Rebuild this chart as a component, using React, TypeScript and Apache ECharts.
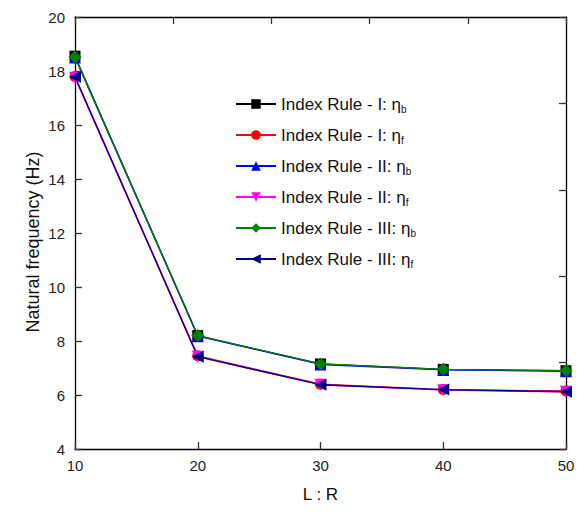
import React, { useEffect, useRef } from "react";
import * as echarts from "echarts";

const ratios = [10, 20, 30, 40, 50];
const seriesNames = [
  "Index Rule - I: ηb",
  "Index Rule - I: ηf",
  "Index Rule - II: ηb",
  "Index Rule - II: ηf",
  "Index Rule - III: ηb",
  "Index Rule - III: ηf",
];
const rule1b = [18.55, 8.2, 7.15, 6.95, 6.9];
const rule1f = [17.8, 7.45, 6.4, 6.2, 6.15];
const rule2b = [18.5, 8.18, 7.13, 6.93, 6.88];
const rule2f = [17.75, 7.42, 6.38, 6.18, 6.12];
const rule3b = [18.52, 8.2, 7.15, 6.95, 6.9];
const rule3f = [17.78, 7.42, 6.38, 6.2, 6.12];
const yTicks = [4, 20, 2];
const xTicks = [10, 50, 10];

const FONT = "'Liberation Sans', Arial, sans-serif";

export default function App() {
  const ref = useRef<HTMLDivElement>(null);
  useEffect(() => {
    if (!ref.current) return;
    const chart = echarts.init(ref.current, null, { renderer: "svg" });
    const colors = ["#000000", "#ff0000", "#0000ff", "#ff00ff", "#008000", "#000080"];
    const symbols = ["rect", "circle", "triangle", "triangle", "diamond", "triangle"];
    const rotates = [0, 0, 0, 180, 0, 90];
    const sizes = [11, 11, 12, 12, 13, 12];
    const values = [rule1b, rule1f, rule2b, rule2f, rule3b, rule3f];
    const series = values.map((vals, i) => ({
      type: "line",
      name: seriesNames[i],
      xAxisIndex: 0,
      yAxisIndex: 0,
      data: ratios.map((r, j) => [r, vals[j]]),
      symbol: symbols[i],
      symbolRotate: rotates[i],
      symbolSize: sizes[i],
      showAllSymbol: true,
      clip: false,
      itemStyle: { color: colors[i] },
      lineStyle: { color: colors[i], width: 1.3 },
    }));
    const axisCommon = {
      axisLine: { show: true, lineStyle: { color: "#000", width: 1.3 } },
      axisTick: { show: true, inside: true, length: 7, lineStyle: { color: "#333", width: 1.3 } },
      splitLine: { show: false },
    };
    chart.setOption({
      animation: false,
      backgroundColor: "#fff",
      grid: { left: 75, right: 13, top: 17, bottom: 68, containLabel: false },
      legend: {
        orient: "vertical",
        left: 230,
        top: 89,
        itemWidth: 40,
        itemHeight: 12,
        itemGap: 11,
        data: seriesNames,
        formatter: (name: string) => {
          const base = name.slice(0, -1);
          const sub = name.slice(-1);
          return `{a|${base}}{s|${sub}}`;
        },
        textStyle: {
          rich: {
            a: { fontFamily: FONT, fontSize: 17, color: "#111", lineHeight: 20, verticalAlign: "middle" },
            s: { fontFamily: FONT, fontSize: 10, color: "#111", lineHeight: 20, verticalAlign: "bottom", padding: [10, 0, 0, 0] },
          },
        },
      },
      graphic: [
        {
          type: "text",
          x: 33,
          y: 242,
          rotation: Math.PI / 2,
          style: {
            text: "Natural frequency (Hz)",
            fontFamily: FONT,
            fontSize: 18,
            fill: "#111",
            align: "center",
            verticalAlign: "middle",
          },
        },
      ],
      xAxis: [
        {
          type: "value",
          min: xTicks[0],
          max: xTicks[1],
          interval: xTicks[2],
          position: "bottom",
          name: "L : R",
          nameLocation: "middle",
          nameGap: 37,
          nameTextStyle: { fontFamily: FONT, fontSize: 17, color: "#111" },
          axisLabel: { fontFamily: FONT, fontSize: 15, color: "#222", margin: 9 },
          ...axisCommon,
        },
        {
          type: "value",
          min: 0,
          max: 5,
          interval: 1,
          position: "top",
          axisLabel: { show: false },
          ...axisCommon,
        },
      ],
      yAxis: [
        {
          type: "value",
          min: yTicks[0],
          max: yTicks[1],
          interval: yTicks[2],
          position: "left",
          axisLabel: { fontFamily: FONT, fontSize: 15, color: "#222", margin: 10 },
          ...axisCommon,
        },
        {
          type: "value",
          min: 0,
          max: 5,
          interval: 1,
          position: "right",
          axisLabel: { show: false },
          ...axisCommon,
        },
      ],
      series,
    });
    return () => chart.dispose();
  }, []);
  return (
    <div
      ref={ref}
      style={{ position: "absolute", left: 0, top: 0, width: 579, height: 517 }}
    />
  );
}
